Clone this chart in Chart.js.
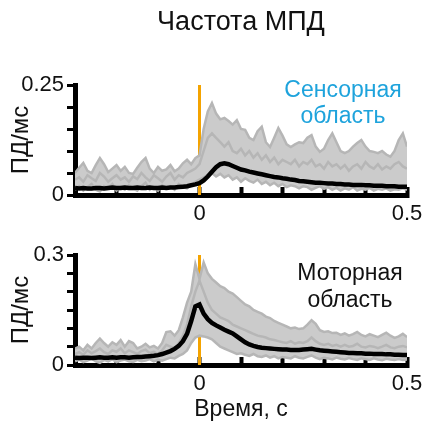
<!DOCTYPE html>
<html>
<head>
<meta charset="utf-8">
<title>Частота МПД</title>
<script src="https://cdn.jsdelivr.net/npm/chart.js"></script>
<style>
  body { margin: 0; background: #fff; }
  canvas { position: absolute; left: 0; }
</style>
</head>
<body>
<canvas id="sensChart" width="423" height="230" style="top:0"></canvas>
<canvas id="motorChart" width="423" height="192" style="top:230px"></canvas>
<script>
// time axis, s (bins of 10 ms)
const time = [-0.30,-0.29,-0.28,-0.27,-0.26,-0.25,-0.24,-0.23,-0.22,-0.21,
  -0.20,-0.19,-0.18,-0.17,-0.16,-0.15,-0.14,-0.13,-0.12,-0.11,
  -0.10,-0.09,-0.08,-0.07,-0.06,-0.05,-0.04,-0.03,-0.02,-0.01,
  0.00,0.01,0.02,0.03,0.04,0.05,0.06,0.07,0.08,0.09,
  0.10,0.11,0.12,0.13,0.14,0.15,0.16,0.17,0.18,0.19,
  0.20,0.21,0.22,0.23,0.24,0.25,0.26,0.27,0.28,0.29,
  0.30,0.31,0.32,0.33,0.34,0.35,0.36,0.37,0.38,0.39,
  0.40,0.41,0.42,0.43,0.44,0.45,0.46,0.47,0.48,0.49,0.50];

// sensory area, spikes/ms
const sensMean = [0.016,0.015,0.016,0.015,0.015,0.016,0.016,0.015,0.016,0.017,
  0.016,0.016,0.017,0.016,0.016,0.017,0.016,0.016,0.017,0.016,
  0.016,0.017,0.016,0.017,0.017,0.018,0.019,0.020,0.022,0.024,
  0.027,0.033,0.042,0.053,0.063,0.070,0.072,0.070,0.066,0.062,
  0.058,0.056,0.053,0.051,0.049,0.047,0.045,0.043,0.041,0.040,
  0.038,0.037,0.035,0.034,0.032,0.031,0.030,0.029,0.028,0.028,
  0.027,0.026,0.026,0.025,0.025,0.024,0.024,0.023,0.023,0.023,
  0.022,0.022,0.021,0.021,0.021,0.020,0.020,0.020,0.019,0.019,0.019];
const sensHigh = [0.050,0.062,0.073,0.055,0.050,0.068,0.084,0.070,0.052,0.060,
  0.068,0.055,0.064,0.050,0.048,0.062,0.075,0.084,0.060,0.050,
  0.064,0.055,0.058,0.068,0.054,0.060,0.072,0.080,0.070,0.084,
  0.090,0.150,0.190,0.209,0.185,0.172,0.175,0.168,0.160,0.170,
  0.150,0.148,0.130,0.125,0.145,0.155,0.120,0.109,0.130,0.152,
  0.135,0.115,0.109,0.115,0.120,0.118,0.130,0.136,0.110,0.098,
  0.105,0.125,0.140,0.120,0.100,0.095,0.100,0.110,0.118,0.125,
  0.110,0.100,0.098,0.095,0.100,0.092,0.087,0.100,0.125,0.140,0.110];
const sensMid = [0.035,0.040,0.030,0.045,0.038,0.032,0.050,0.042,0.030,0.038,
  0.045,0.035,0.040,0.030,0.042,0.036,0.050,0.040,0.032,0.045,
  0.038,0.030,0.042,0.050,0.035,0.045,0.040,0.050,0.055,0.060,
  0.070,0.100,0.130,0.140,0.130,0.120,0.110,0.120,0.100,0.095,
  0.105,0.090,0.100,0.085,0.095,0.080,0.090,0.075,0.085,0.070,
  0.080,0.075,0.070,0.080,0.065,0.075,0.070,0.080,0.065,0.070,
  0.060,0.075,0.065,0.070,0.060,0.068,0.055,0.065,0.070,0.060,
  0.075,0.065,0.060,0.070,0.058,0.065,0.060,0.070,0.075,0.065,0.060];
const sensLow = [0.012,0.020,0.010,0.018,0.025,0.012,0.008,0.020,0.015,0.025,
  0.010,0.018,0.012,0.022,0.015,0.010,0.020,0.028,0.012,0.018,
  0.010,0.022,0.015,0.020,0.012,0.025,0.018,0.015,0.022,0.030,
  0.035,0.040,0.045,0.050,0.042,0.048,0.040,0.045,0.035,0.040,
  0.030,0.038,0.032,0.028,0.035,0.025,0.030,0.022,0.028,0.020,
  0.025,0.018,0.022,0.020,0.015,0.020,0.018,0.012,0.016,0.020,
  0.014,0.018,0.012,0.016,0.010,0.015,0.012,0.018,0.010,0.014,
  0.012,0.016,0.010,0.014,0.012,0.015,0.010,0.013,0.012,0.015,0.012];

// motor area, spikes/ms
const motorMean = [0.020,0.019,0.020,0.020,0.019,0.020,0.021,0.020,0.020,0.021,
  0.020,0.021,0.021,0.020,0.021,0.022,0.022,0.023,0.024,0.025,
  0.027,0.030,0.034,0.038,0.044,0.052,0.065,0.085,0.120,0.160,
  0.165,0.140,0.125,0.115,0.108,0.102,0.096,0.091,0.086,0.078,
  0.070,0.062,0.056,0.052,0.049,0.047,0.046,0.045,0.044,0.043,
  0.042,0.042,0.041,0.041,0.041,0.042,0.043,0.044,0.042,0.040,
  0.039,0.038,0.037,0.036,0.035,0.034,0.033,0.033,0.032,0.032,
  0.031,0.031,0.030,0.030,0.030,0.029,0.029,0.028,0.028,0.027,0.027];
const motorHigh = [0.045,0.050,0.040,0.055,0.045,0.060,0.072,0.060,0.050,0.062,
  0.055,0.068,0.050,0.065,0.060,0.045,0.050,0.058,0.048,0.052,
  0.045,0.060,0.090,0.092,0.080,0.095,0.130,0.170,0.200,0.275,
  0.235,0.280,0.250,0.235,0.225,0.215,0.210,0.200,0.195,0.185,
  0.175,0.165,0.160,0.150,0.145,0.140,0.132,0.128,0.120,0.115,
  0.110,0.105,0.100,0.102,0.098,0.100,0.110,0.122,0.112,0.095,
  0.090,0.092,0.087,0.088,0.082,0.086,0.080,0.084,0.090,0.082,
  0.078,0.084,0.080,0.076,0.082,0.088,0.080,0.074,0.078,0.085,0.076];
const motorMid = [0.030,0.035,0.028,0.040,0.032,0.038,0.045,0.035,0.030,0.040,
  0.036,0.045,0.032,0.040,0.035,0.030,0.038,0.042,0.032,0.036,
  0.030,0.040,0.055,0.050,0.045,0.060,0.080,0.110,0.160,0.200,
  0.230,0.200,0.170,0.150,0.140,0.130,0.125,0.120,0.110,0.105,
  0.100,0.095,0.090,0.085,0.080,0.078,0.075,0.070,0.068,0.065,
  0.062,0.060,0.065,0.058,0.062,0.060,0.065,0.075,0.065,0.058,
  0.055,0.058,0.052,0.055,0.050,0.055,0.050,0.052,0.058,0.050,
  0.048,0.052,0.050,0.046,0.050,0.055,0.048,0.046,0.050,0.052,0.048];
const motorLow = [0.010,0.015,0.008,0.012,0.018,0.010,0.006,0.014,0.010,0.016,
  0.008,0.012,0.015,0.010,0.008,0.014,0.010,0.012,0.016,0.010,
  0.014,0.012,0.016,0.020,0.018,0.025,0.030,0.040,0.060,0.075,
  0.080,0.078,0.075,0.070,0.060,0.050,0.045,0.040,0.035,0.030,
  0.032,0.028,0.025,0.030,0.024,0.022,0.026,0.020,0.024,0.018,
  0.022,0.020,0.018,0.024,0.020,0.018,0.022,0.026,0.020,0.016,
  0.020,0.018,0.015,0.020,0.017,0.015,0.019,0.016,0.014,0.018,
  0.016,0.014,0.018,0.015,0.013,0.017,0.015,0.014,0.016,0.014,0.015];

const xTickLabels = [0, 0.5];
const sensYMax = 0.25;
const motorYMax = 0.3;

const FONT = '"Liberation Sans", Arial, sans-serif';
Chart.defaults.font.family = FONT;
Chart.defaults.color = '#111';

// text labels inside the panels
const areaLabels = {
  id: 'areaLabels',
  afterDraw(chart, args, opts) {
    const ctx = chart.ctx;
    ctx.save();
    ctx.font = opts.size + 'px ' + FONT;
    ctx.fillStyle = opts.color;
    ctx.textAlign = 'center';
    ctx.textBaseline = 'alphabetic';
    opts.lines.forEach((t, i) => ctx.fillText(t, opts.x, opts.y + i * opts.gap));
    ctx.restore();
  }
};

function makePanel(id, mean, high, mid, low, yMax, o) {
  const gray = 'rgb(182,182,182)';
  return new Chart(document.getElementById(id), {
    type: 'line',
    data: {
      labels: time,
      datasets: [
        { data: mean, borderColor: '#000', borderWidth: 4.5 },
        { data: high, borderColor: gray, borderWidth: 2.5 },
        { data: mid, borderColor: gray, borderWidth: 2.5 },
        { data: low, borderColor: gray, borderWidth: 2.5 },
        { data: high, borderWidth: 0, backgroundColor: 'rgb(203,203,203)', fill: 3 },
        { data: [{ x: 0, y: 0 }, { x: 0, y: yMax }], borderColor: '#f4a300', borderWidth: 3 }
      ]
    },
    plugins: [areaLabels],
    options: {
      responsive: false,
      animation: false,
      devicePixelRatio: 1,
      layout: { padding: { top: o.padTop, right: 0, left: 0, bottom: 0 } },
      elements: { point: { radius: 0 }, line: { tension: 0 } },
      plugins: {
        legend: { display: false },
        tooltip: { enabled: false },
        title: o.title ? {
          display: true, text: o.title, fullSize: false, color: '#111',
          font: { size: 27, weight: 'normal', lineHeight: 1.2 },
          padding: { top: 6, bottom: 46.6 }
        } : { display: false },
        areaLabels: o.labels
      },
      scales: {
        x: {
          type: 'linear', min: -0.3, max: 0.5, z: 1,
          border: { display: true, color: '#000', width: 5 },
          grid: { drawOnChartArea: false, drawTicks: true, tickLength: -8, tickWidth: 4, tickColor: '#000' },
          ticks: {
            stepSize: 0.1, padding: 14, autoSkip: false, maxRotation: 0,
            color: '#111', font: { size: 22 },
            callback: v => xTickLabels.some(t => Math.abs(t - v) < 1e-6) ? String(Math.round(v * 10) / 10) : ''
          },
          title: o.xTitle ? {
            display: true, text: o.xTitle, color: '#111',
            font: { size: 23, lineHeight: 1 }, padding: { top: 0, bottom: 1 }
          } : { display: false },
          afterFit: s => { s.height = o.xHeight; s.paddingLeft = 0; s.paddingRight = 16; }
        },
        y: {
          min: 0, max: yMax, z: 1,
          border: { display: true, color: '#000', width: 5 },
          grid: { drawOnChartArea: false, tickLength: 8, tickWidth: 3, tickColor: '#000' },
          ticks: {
            stepSize: 0.05, padding: 3, color: '#111', font: { size: 22, lineHeight: 0.6 },
            callback: v => (Math.abs(v) < 1e-6 ? '0' : (Math.abs(v - yMax) < 1e-6 ? String(yMax) : ''))
          },
          title: {
            display: true, text: 'ПД/мс', color: '#111',
            font: { size: 24, lineHeight: 1 }, padding: { top: 9, bottom: 0 }
          },
          afterFit: s => { s.width = 75; }
        }
      }
    }
  });
}

makePanel('sensChart', sensMean, sensHigh, sensMid, sensLow, sensYMax, {
  padTop: 0, title: 'Частота МПД', xHeight: 35,
  labels: { lines: ['Сенсорная', 'область'], x: 343, y: 97, gap: 26, size: 23, color: '#1ea3dc' }
});
makePanel('motorChart', motorMean, motorHigh, motorMid, motorLow, motorYMax, {
  padTop: 25, title: null, xHeight: 57, xTitle: 'Время, с',
  labels: { lines: ['Моторная', 'область'], x: 350, y: 50, gap: 27, size: 23, color: '#111' }
});
</script>
</body>
</html>
